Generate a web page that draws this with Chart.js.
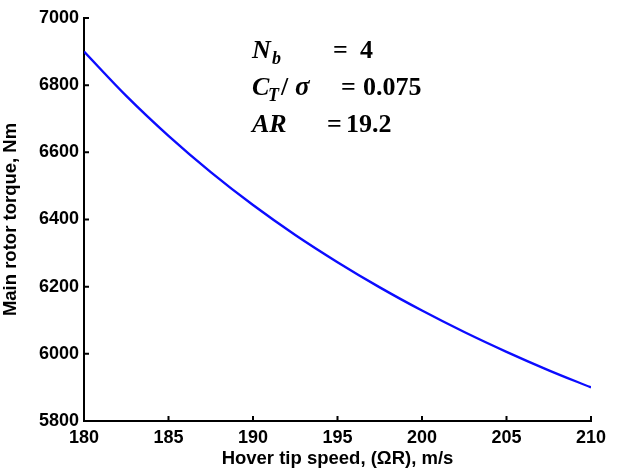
<!DOCTYPE html>
<html>
<head>
<meta charset="utf-8">
<script src="https://cdn.jsdelivr.net/npm/chart.js@4.4.1/dist/chart.umd.min.js"></script>
<style>
  html, body { margin: 0; padding: 0; background: #fff; }
  canvas { display: block; }
</style>
</head>
<body>
<canvas id="torqueChart" width="617" height="471"></canvas>
<script>
// hover tip speed (m/s) and main rotor torque (Nm)
const tipSpeed = [180, 182.5, 185, 187.5, 190, 192.5, 195, 197.5, 200, 202.5, 205, 207.5, 210];
const torque = [6900, 6768, 6649, 6541, 6443, 6354, 6273, 6198, 6129, 6065, 6006, 5951, 5900];

const xTitle = 'Hover tip speed, (\u03A9R), m/s';
const yTitle = 'Main rotor torque, Nm';

const tickFont = { family: 'Liberation Sans, Arial, sans-serif', size: 18, weight: 'bold' };
const titleFont = { family: 'Liberation Sans, Arial, sans-serif', size: 18.5, weight: 'bold' };

const serif = '"Liberation Serif", "Times New Roman", serif';

// parameter text pieces: [text, x, line, style]
// style: i = italic main, s = italic subscript, g = greek italic, n = upright
const paramPieces = [
    ['N', 252, 0, 'i'], ['b', 272, 0, 's'], ['=', 333, 0, 'n'], ['4', 360, 0, 'n'],
    ['C', 252, 1, 'i'], ['T', 268, 1, 's'], ['/', 281, 1, 'n'], ['\u03C3', 295, 1, 'g'],
    ['=', 341, 1, 'n'], ['0.075', 363, 1, 'n'],
    ['AR', 252, 2, 'i'], ['=', 327, 2, 'n'], ['19.2', 346, 2, 'n']
];
const paramBaselines = [58, 95, 132];

// MATLAB style ticks that point into the plot
const inwardTicks = {
    id: 'inwardTicks',
    afterDraw(chart) {
        const ctx = chart.ctx;
        const { x, y } = chart.scales;
        ctx.save();
        ctx.strokeStyle = '#000';
        ctx.lineWidth = 2;
        ctx.beginPath();
        x.ticks.forEach(t => {
            const px = x.getPixelForValue(t.value);
            ctx.moveTo(px, y.bottom);
            ctx.lineTo(px, y.bottom - 5);
        });
        y.ticks.forEach(t => {
            const py = y.getPixelForValue(t.value);
            ctx.moveTo(x.left, py);
            ctx.lineTo(x.left + 5, py);
        });
        ctx.stroke();
        ctx.restore();
    }
};

// text block with rotor parameters
const paramText = {
    id: 'paramText',
    afterDraw(chart) {
        const ctx = chart.ctx;
        ctx.save();
        ctx.fillStyle = '#000';
        ctx.textBaseline = 'alphabetic';
        ctx.textAlign = 'left';
        paramPieces.forEach(([txt, px, line, style]) => {
            let by = paramBaselines[line];
            if (style === 'i') ctx.font = 'italic bold 26px ' + serif;
            else if (style === 's') { ctx.font = 'italic bold 18px ' + serif; by += 6; }
            else if (style === 'g') ctx.font = 'italic bold 27px ' + serif;
            else ctx.font = 'bold 26px ' + serif;
            ctx.fillText(txt, px, by);
        });
        ctx.restore();
    }
};

new Chart(document.getElementById('torqueChart'), {
    type: 'line',
    data: {
        datasets: [{
            data: tipSpeed.map((v, i) => ({ x: v, y: torque[i] })),
            borderColor: '#0c0cff',
            borderWidth: 2.4,
            pointRadius: 0,
            cubicInterpolationMode: 'monotone',
            fill: false
        }]
    },
    options: {
        responsive: false,
        animation: false,
        layout: { padding: { top: 18, right: 26, left: 0, bottom: 0 } },
        plugins: { legend: { display: false }, tooltip: { enabled: false } },
        scales: {
            x: {
                type: 'linear',
                min: 180,
                max: 210,
                ticks: { stepSize: 5, autoSkip: false, color: '#000', font: tickFont, padding: 6, maxRotation: 0,
                         callback: v => String(v) },
                grid: { display: true, drawOnChartArea: false, drawTicks: false },
                border: { display: true, color: '#000', width: 2 },
                title: { display: true, text: xTitle, color: '#000', font: titleFont, padding: { top: 0, bottom: 1 } },
                afterFit(scale) { scale.height = 50; }
            },
            y: {
                min: 5800,
                max: 7000,
                ticks: { stepSize: 200, autoSkip: false, color: '#000', font: tickFont, padding: 5,
                         callback: v => String(v) },
                grid: { display: true, drawOnChartArea: false, drawTicks: false },
                border: { display: true, color: '#000', width: 2 },
                title: { display: true, text: yTitle, color: '#000', font: titleFont, padding: { top: 0, bottom: 0 } },
                afterFit(scale) { scale.width = 84; }
            }
        }
    },
    plugins: [inwardTicks, paramText]
});
</script>
</body>
</html>
